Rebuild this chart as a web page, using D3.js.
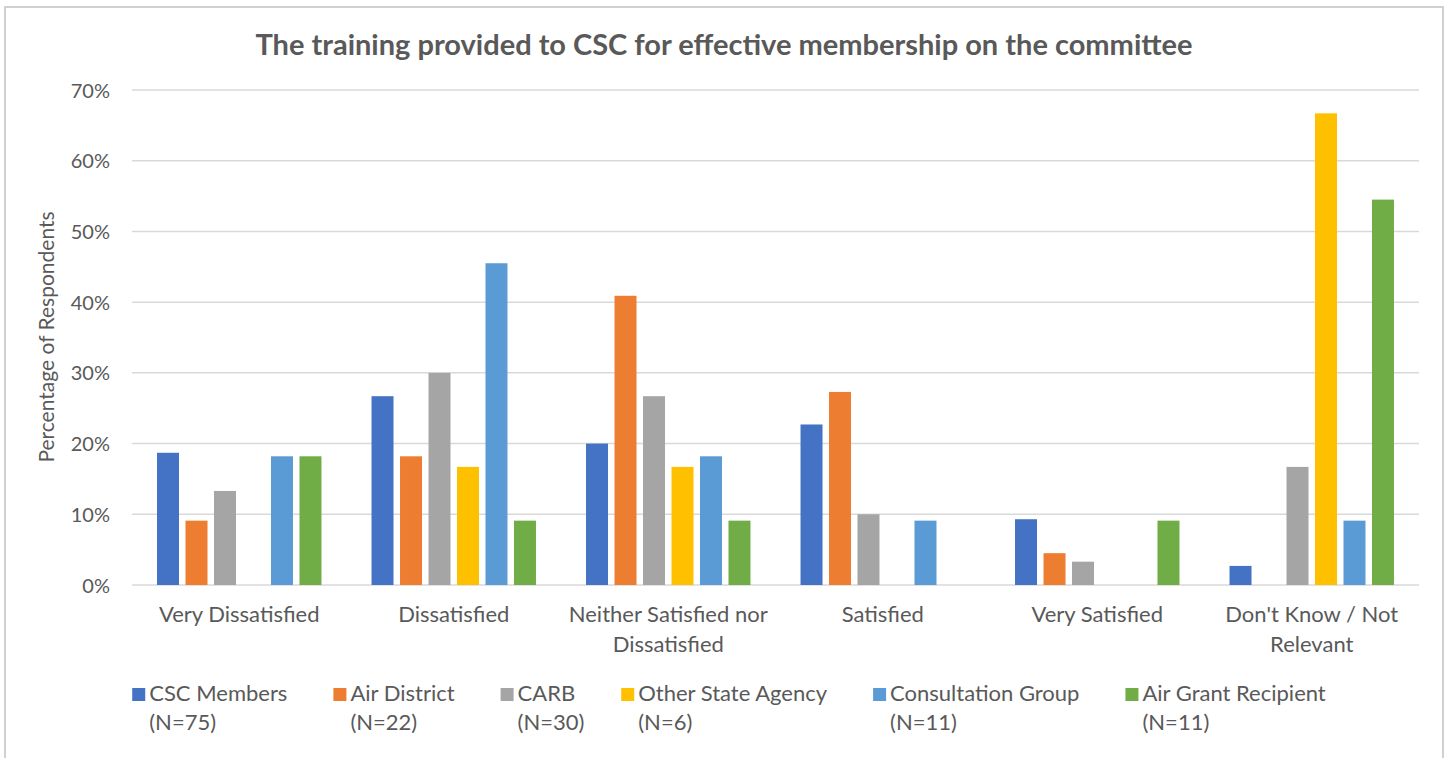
<!DOCTYPE html>
<html>
<head>
<meta charset="utf-8">
<script src="https://cdn.jsdelivr.net/npm/d3@7"></script>
<style>
  html, body { margin: 0; padding: 0; background: #fff; }
  svg { display: block; }
  text { font-family: Lato, "Open Sans", sans-serif; fill: #595959; }
</style>
</head>
<body>
<svg id="chart" width="1447" height="758"></svg>
<script>
const title = "The training provided to CSC for effective membership on the committee";
const categories = [
  ["Very Dissatisfied"],
  ["Dissatisfied"],
  ["Neither Satisfied nor", "Dissatisfied"],
  ["Satisfied"],
  ["Very Satisfied"],
  ["Don't Know / Not", "Relevant"]
];
const seriesNames = ["CSC Members", "Air District", "CARB", "Other State Agency", "Consultation Group", "Air Grant Recipient"];
const seriesN = ["(N=75)", "(N=22)", "(N=30)", "(N=6)", "(N=11)", "(N=11)"];
const seriesColors = ["#4472C4", "#ED7D31", "#A5A5A5", "#FFC000", "#5B9BD5", "#70AD47"];
// values in percent, per series, per category
const cscMembers        = [18.7, 26.7, 20.0, 22.7, 9.3, 2.7];
const airDistrict       = [9.1, 18.2, 40.9, 27.3, 4.5, 0];
const carb              = [13.3, 30.0, 26.7, 10.0, 3.3, 16.7];
const otherStateAgency  = [0, 16.7, 16.7, 0, 0, 66.7];
const consultationGroup = [18.2, 45.5, 18.2, 9.1, 0, 9.1];
const airGrantRecipient = [18.2, 9.1, 9.1, 0, 9.1, 54.5];
const yTicks = [0, 10, 20, 30, 40, 50, 60, 70];
const yTitle = "Percentage of Respondents";

const seriesValues = [cscMembers, airDistrict, carb, otherStateAgency, consultationGroup, airGrantRecipient];

const svg = d3.select("#chart");

// outer border
svg.append("rect").attr("x", 5).attr("y", 7).attr("width", 1438).attr("height", 770)
  .attr("fill", "none").attr("stroke", "#d0d0d0").attr("stroke-width", 2);

const plot = {left: 132, right: 1419, top: 90, bottom: 585};
const catKeys = categories.map((c, i) => i);

const x0 = d3.scaleBand().domain(catKeys).range([plot.left, plot.right])
  .paddingInner(0.203).paddingOuter(0.1015);
const x1 = d3.scaleBand().domain(d3.range(seriesNames.length)).range([0, x0.bandwidth()])
  .paddingInner(0.228).paddingOuter(0.114);
const y = d3.scaleLinear().domain([0, 70]).range([plot.bottom, plot.top]);

// gridlines
svg.append("g").selectAll("line").data(yTicks).join("line")
  .attr("x1", plot.left).attr("x2", plot.right)
  .attr("y1", d => y(d)).attr("y2", d => y(d))
  .attr("stroke", "#d9d9d9").attr("stroke-width", 1.5);

// y tick labels
const yAxis = d3.axisLeft(y).tickValues(yTicks).tickFormat(d => d + "%").tickSize(0).tickPadding(0);
const gy = svg.append("g").attr("transform", `translate(110,0)`).call(yAxis);
gy.select(".domain").remove();
gy.selectAll("text").style("font-size", "20px").attr("fill", "#595959")
  .style("font-family", "Lato, 'Open Sans', sans-serif").attr("dy", "0.35em");

// y title
svg.append("text").attr("transform", "translate(54,337) rotate(-90)")
  .attr("text-anchor", "middle").style("font-size", "21px").text(yTitle);

// bars
const groups = svg.append("g").selectAll("g").data(categories).join("g")
  .attr("transform", (d, i) => `translate(${x0(i)},0)`);
groups.selectAll("rect").data((d, ci) => seriesValues.map((vals, si) => ({si, v: vals[ci]})))
  .join("rect")
  .attr("x", d => x1(d.si)).attr("width", x1.bandwidth())
  .attr("y", d => y(d.v)).attr("height", d => y(0) - y(d.v))
  .attr("fill", d => seriesColors[d.si]);

// category labels
const xl = svg.append("g");
categories.forEach((lines, i) => {
  const cx = x0(i) + x0.bandwidth() / 2;
  lines.forEach((ln, j) => {
    xl.append("text").attr("x", cx).attr("y", 622 + j * 30)
      .attr("text-anchor", "middle").style("font-size", "22px").text(ln);
  });
});

// title
svg.append("text").attr("x", 724).attr("y", 55).attr("text-anchor", "middle")
  .style("font-size", "29px").style("font-weight", "bold").text(title);

// legend
const legend = svg.append("g");
const items = seriesNames.map((name, i) => {
  const g = legend.append("g");
  g.append("rect").attr("x", 0).attr("y", 688).attr("width", 13).attr("height", 13)
    .attr("fill", seriesColors[i]);
  const t = g.append("text").attr("x", 17).attr("y", 701).style("font-size", "22px").text(name);
  g.append("text").attr("x", 17).attr("y", 730).style("font-size", "22px").text(seriesN[i]);
  return {g, w: 17 + t.node().getComputedTextLength()};
});
const gap = 46;
const total = d3.sum(items, d => d.w) + gap * (items.length - 1);
let lx = 729 - total / 2;
items.forEach(it => { it.g.attr("transform", `translate(${lx},0)`); lx += it.w + gap; });
</script>
</body>
</html>
